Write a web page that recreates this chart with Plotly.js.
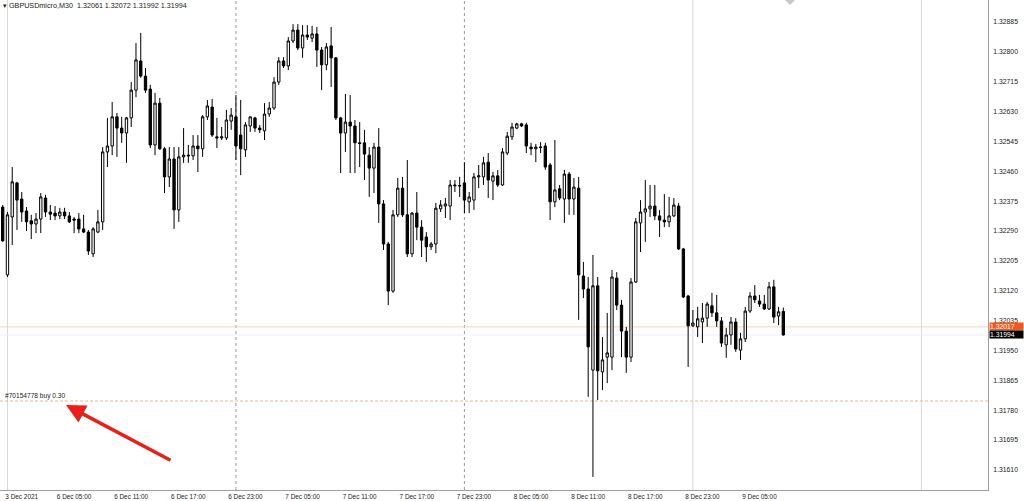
<!DOCTYPE html>
<html>
<head>
<meta charset="utf-8">
<script src="https://cdn.plot.ly/plotly-3.0.1.min.js"></script>
<style>html,body{margin:0;padding:0;background:#fff;}#chart{width:1024px;height:501px;}</style>
</head>
<body>
<div id="chart"></div>
<script>
const symbolTitle = 'GBPUSDmicro,M30';
const openPrices = [1.32358,1.32165,1.32330,1.32427,1.32381,1.32347,1.32319,1.32310,1.32324,1.32384,1.32344,1.32341,1.32333,1.32344,1.32333,1.32324,1.32324,1.32296,1.32287,1.32225,1.32287,1.32316,1.32515,1.32532,1.32615,1.32583,1.32569,1.32612,1.32691,1.32774,1.32731,1.32694,1.32535,1.32654,1.32524,1.32444,1.32495,1.32350,1.32501,1.32506,1.32504,1.32532,1.32524,1.32615,1.32643,1.32558,1.32555,1.32555,1.32603,1.32615,1.32563,1.32521,1.32589,1.32612,1.32583,1.32575,1.32623,1.32640,1.32714,1.32774,1.32760,1.32831,1.32862,1.32811,1.32848,1.32839,1.32851,1.32805,1.32763,1.32817,1.32783,1.32612,1.32569,1.32600,1.32589,1.32541,1.32541,1.32506,1.32469,1.32529,1.32367,1.32253,1.32119,1.32336,1.32412,1.32336,1.32225,1.32341,1.32301,1.32273,1.32245,1.32253,1.32353,1.32361,1.32361,1.32421,1.32418,1.32427,1.32373,1.32378,1.32444,1.32444,1.32486,1.32432,1.32447,1.32421,1.32512,1.32558,1.32583,1.32595,1.32592,1.32529,1.32524,1.32529,1.32532,1.32478,1.32373,1.32410,1.32381,1.32452,1.32381,1.32412,1.32162,1.32125,1.31894,1.32134,1.31889,1.31931,1.31931,1.32156,1.32079,1.32005,1.31931,1.32145,1.32313,1.32344,1.32353,1.32361,1.32333,1.32321,1.32316,1.32333,1.32361,1.32239,1.32105,1.32020,1.32017,1.32031,1.32042,1.32077,1.32057,1.32034,1.31966,1.31994,1.32031,1.31951,1.31983,1.32062,1.32105,1.32091,1.32082,1.32068,1.32131,1.32048,1.32061];
const highPrices = [1.32364,1.32344,1.32472,1.32430,1.32401,1.32358,1.32336,1.32341,1.32398,1.32393,1.32364,1.32361,1.32356,1.32356,1.32344,1.32330,1.32341,1.32336,1.32293,1.32301,1.32350,1.32529,1.32612,1.32657,1.32626,1.32615,1.32615,1.32714,1.32825,1.32854,1.32754,1.32706,1.32683,1.32669,1.32529,1.32529,1.32529,1.32529,1.32583,1.32535,1.32563,1.32563,1.32620,1.32663,1.32666,1.32612,1.32586,1.32635,1.32640,1.32677,1.32663,1.32600,1.32615,1.32615,1.32592,1.32654,1.32657,1.32728,1.32785,1.32785,1.32842,1.32879,1.32879,1.32876,1.32876,1.32874,1.32871,1.32814,1.32825,1.32871,1.32785,1.32615,1.32680,1.32677,1.32606,1.32600,1.32578,1.32529,1.32541,1.32583,1.32378,1.32259,1.32350,1.32441,1.32444,1.32492,1.32344,1.32401,1.32321,1.32287,1.32259,1.32370,1.32378,1.32384,1.32435,1.32435,1.32444,1.32486,1.32401,1.32455,1.32478,1.32501,1.32512,1.32458,1.32464,1.32526,1.32572,1.32598,1.32598,1.32598,1.32598,1.32541,1.32538,1.32543,1.32541,1.32484,1.32549,1.32421,1.32464,1.32458,1.32441,1.32444,1.32202,1.32159,1.32222,1.32159,1.31988,1.32057,1.32179,1.32173,1.32094,1.32017,1.32156,1.32327,1.32378,1.32435,1.32421,1.32421,1.32350,1.32395,1.32387,1.32384,1.32370,1.32242,1.32108,1.32065,1.32074,1.32085,1.32088,1.32114,1.32108,1.32045,1.32014,1.32045,1.32042,1.32000,1.32074,1.32116,1.32136,1.32108,1.32108,1.32145,1.32151,1.32074,1.32072];
const lowPrices = [1.32259,1.32159,1.32250,1.32293,1.32316,1.32290,1.32267,1.32284,1.32284,1.32330,1.32321,1.32321,1.32324,1.32324,1.32313,1.32284,1.32284,1.32284,1.32222,1.32216,1.32284,1.32293,1.32472,1.32506,1.32501,1.32541,1.32484,1.32586,1.32671,1.32726,1.32683,1.32526,1.32506,1.32521,1.32398,1.32415,1.32296,1.32316,1.32484,1.32484,1.32492,1.32458,1.32501,1.32606,1.32558,1.32526,1.32549,1.32549,1.32578,1.32492,1.32449,1.32501,1.32572,1.32572,1.32569,1.32549,1.32615,1.32635,1.32706,1.32754,1.32748,1.32825,1.32805,1.32783,1.32834,1.32828,1.32757,1.32691,1.32748,1.32700,1.32606,1.32455,1.32515,1.32455,1.32455,1.32472,1.32435,1.32387,1.32398,1.32313,1.32236,1.32079,1.32114,1.32330,1.32330,1.32216,1.32216,1.32264,1.32216,1.32202,1.32236,1.32227,1.32344,1.32327,1.32321,1.32401,1.32387,1.32341,1.32341,1.32350,1.32412,1.32421,1.32384,1.32378,1.32415,1.32418,1.32506,1.32549,1.32580,1.32586,1.32512,1.32506,1.32486,1.32512,1.32464,1.32321,1.32358,1.32378,1.32313,1.32336,1.32336,1.32037,1.32099,1.31818,1.31590,1.31809,1.31837,1.31857,1.31894,1.32065,1.31931,1.31886,1.31917,1.32142,1.32230,1.32259,1.32330,1.32321,1.32273,1.32301,1.32301,1.32330,1.32236,1.32099,1.31903,1.32017,1.31988,1.31971,1.32017,1.32045,1.32017,1.31960,1.31929,1.31966,1.31946,1.31923,1.31974,1.32057,1.32085,1.32074,1.32065,1.32065,1.32028,1.32022,1.31992];
const closePrices = [1.32262,1.32336,1.32430,1.32378,1.32344,1.32316,1.32310,1.32324,1.32387,1.32344,1.32338,1.32333,1.32344,1.32333,1.32316,1.32321,1.32296,1.32287,1.32233,1.32296,1.32316,1.32515,1.32532,1.32615,1.32583,1.32569,1.32612,1.32691,1.32777,1.32731,1.32691,1.32535,1.32654,1.32524,1.32444,1.32495,1.32350,1.32501,1.32506,1.32504,1.32532,1.32524,1.32615,1.32646,1.32563,1.32555,1.32558,1.32606,1.32620,1.32532,1.32524,1.32592,1.32615,1.32583,1.32578,1.32623,1.32640,1.32714,1.32774,1.32760,1.32831,1.32862,1.32811,1.32848,1.32842,1.32851,1.32805,1.32763,1.32814,1.32783,1.32612,1.32569,1.32600,1.32589,1.32541,1.32539,1.32509,1.32469,1.32529,1.32367,1.32253,1.32119,1.32336,1.32412,1.32336,1.32225,1.32341,1.32301,1.32264,1.32245,1.32253,1.32355,1.32364,1.32367,1.32421,1.32419,1.32419,1.32378,1.32387,1.32444,1.32447,1.32484,1.32435,1.32447,1.32421,1.32515,1.32560,1.32586,1.32595,1.32589,1.32532,1.32524,1.32529,1.32528,1.32472,1.32373,1.32407,1.32384,1.32452,1.32381,1.32415,1.32165,1.32125,1.31960,1.32134,1.31892,1.31923,1.31943,1.32159,1.32079,1.32005,1.31931,1.32145,1.32316,1.32344,1.32353,1.32361,1.32333,1.32321,1.32316,1.32333,1.32364,1.32239,1.32102,1.32020,1.32028,1.32040,1.32042,1.32082,1.32057,1.32034,1.31971,1.31994,1.32031,1.31954,1.31983,1.32062,1.32105,1.32094,1.32082,1.32068,1.32131,1.32045,1.32060,1.31994];

const timeTickIndex = [0, 11, 23, 35, 47, 59, 71, 83, 95, 107, 119, 131, 143, 155];
const timeTickLabels = ['3 Dec 2021','6 Dec 05:00','6 Dec 11:00','6 Dec 17:00','6 Dec 23:00','7 Dec 05:00','7 Dec 11:00','7 Dec 17:00','7 Dec 23:00','8 Dec 05:00','8 Dec 11:00','8 Dec 17:00','8 Dec 23:00','9 Dec 05:00'];
const priceTicks = [1.31610,1.31695,1.31780,1.31865,1.31950,1.32035,1.32120,1.32205,1.32290,1.32375,1.32460,1.32545,1.32630,1.32715,1.32800,1.32885];
const daySeparatorIndex = [1, 49, 97, 145, 193];
const askPrice = 1.32017;
const bidPrice = 1.31994;
const orderPrice = 1.31806;
const orderLabel = '#70154778 buy 0.30';

const n = closePrices.length;
const idx = Array.from({length: n}, (_, i) => i);
const last = n - 1;
const FONT = 'Liberation Sans, Arial, sans-serif';

const trace = {
  type: 'candlestick',
  x: idx, open: openPrices, high: highPrices, low: lowPrices, close: closePrices,
  increasing: {line: {color: '#000', width: 1}, fillcolor: '#ffffff'},
  decreasing: {line: {color: '#000', width: 1}, fillcolor: '#000000'},
  whiskerwidth: 0,
  hoverinfo: 'skip',
  showlegend: false
};

const plotW = 988, plotH = 490;
const headerText = '\u25BE ' + symbolTitle + '\u00a0\u00a0' +
  [openPrices[last], highPrices[last], lowPrices[last], closePrices[last]].map(v => v.toFixed(5)).join(' ');

const shapes = [];
daySeparatorIndex.forEach((d, k) => {
  shapes.push({type: 'line', xref: 'x', yref: 'paper', x0: d, x1: d, y0: 0, y1: 1,
    line: {color: k === 1 || k === 2 ? '#9a9a9a' : '#d8d8d8', width: 1, dash: k === 1 || k === 2 ? 'dot' : 'solid'}, layer: 'below'});
});
shapes.push({type: 'line', xref: 'paper', yref: 'y', x0: 0, x1: 1, y0: askPrice, y1: askPrice, line: {color: '#f2d6bd', width: 1}, layer: 'below'});
shapes.push({type: 'line', xref: 'paper', yref: 'y', x0: 0, x1: 1, y0: bidPrice, y1: bidPrice, line: {color: '#eceef8', width: 1}, layer: 'below'});
shapes.push({type: 'line', xref: 'paper', yref: 'y', x0: 0, x1: 1, y0: orderPrice, y1: orderPrice, line: {color: '#e8b88a', width: 1, dash: '3px,2px'}, layer: 'below'});
// chart shift marker at the top border
shapes.push({type: 'path', xref: 'paper', yref: 'paper',
  path: 'M ' + (785 / plotW) + ' 1 L ' + (795 / plotW) + ' 1 L ' + (790 / plotW) + ' ' + (1 - 5 / plotH) + ' Z',
  fillcolor: '#c8c8c8', line: {width: 0}});

const annotations = [
  {xref: 'paper', yref: 'paper', x: 0.001, y: 1, xanchor: 'left', yanchor: 'top', yshift: 1, showarrow: false,
   text: headerText, font: {family: FONT, size: 7.2, color: '#222'}},
  {xref: 'paper', yref: 'y', x: 0.003, y: orderPrice, xanchor: 'left', yanchor: 'bottom', yshift: -1, showarrow: false,
   text: orderLabel, font: {family: FONT, size: 6.6, color: '#222'}},
  {xref: 'paper', yref: 'y', x: 1, y: askPrice, xanchor: 'left', yanchor: 'middle', xshift: 1, showarrow: false,
   text: askPrice.toFixed(5), bgcolor: '#f05a22', borderpad: 0, width: 33, height: 7, align: 'left',
   font: {family: FONT, size: 6.8, color: '#ffffff'}},
  {xref: 'paper', yref: 'y', x: 1, y: bidPrice, xanchor: 'left', yanchor: 'middle', xshift: 1, showarrow: false,
   text: bidPrice.toFixed(5), bgcolor: '#000000', borderpad: 0, width: 33, height: 7, align: 'left',
   font: {family: FONT, size: 6.8, color: '#ffffff'}},
  {xref: 'paper', yref: 'paper', x: 66 / plotW, y: 1 - 405 / plotH, ax: 106, ay: 56, axref: 'pixel', ayref: 'pixel',
   showarrow: true, text: '', arrowhead: 2, arrowsize: 1.1, arrowwidth: 3.5, arrowcolor: '#e8201c'}
];

const layout = {
  width: 1024, height: 501,
  margin: {l: 0, r: 36, t: 0, b: 11, pad: 0},
  paper_bgcolor: '#ffffff', plot_bgcolor: '#ffffff',
  showlegend: false,
  boxgap: 0.3,
  xaxis: {
    range: [-2.7 / 4.76, -2.7 / 4.76 + plotW / 4.76],
    rangeslider: {visible: false},
    showgrid: false, zeroline: false,
    showline: true, linecolor: '#a0a0a0', linewidth: 1,
    tickmode: 'array', tickvals: timeTickIndex, ticktext: timeTickLabels,
    ticks: '', ticklabelshift: 19, ticklabelstandoff: 0,
    tickfont: {family: FONT, size: 6.4, color: '#222'},
    fixedrange: true
  },
  yaxis: {
    side: 'right',
    range: [1.315527, 1.329476],
    showgrid: false, zeroline: false,
    showline: true, linecolor: '#a0a0a0', linewidth: 1,
    tickmode: 'array', tickvals: priceTicks, ticktext: priceTicks.map(v => v.toFixed(5)),
    ticks: '', ticklabelstandoff: 3,
    tickfont: {family: FONT, size: 6.8, color: '#222'},
    fixedrange: true
  },
  shapes: shapes,
  annotations: annotations
};

Plotly.newPlot('chart', [trace], layout, {staticPlot: true, displayModeBar: false});
</script>
</body>
</html>
